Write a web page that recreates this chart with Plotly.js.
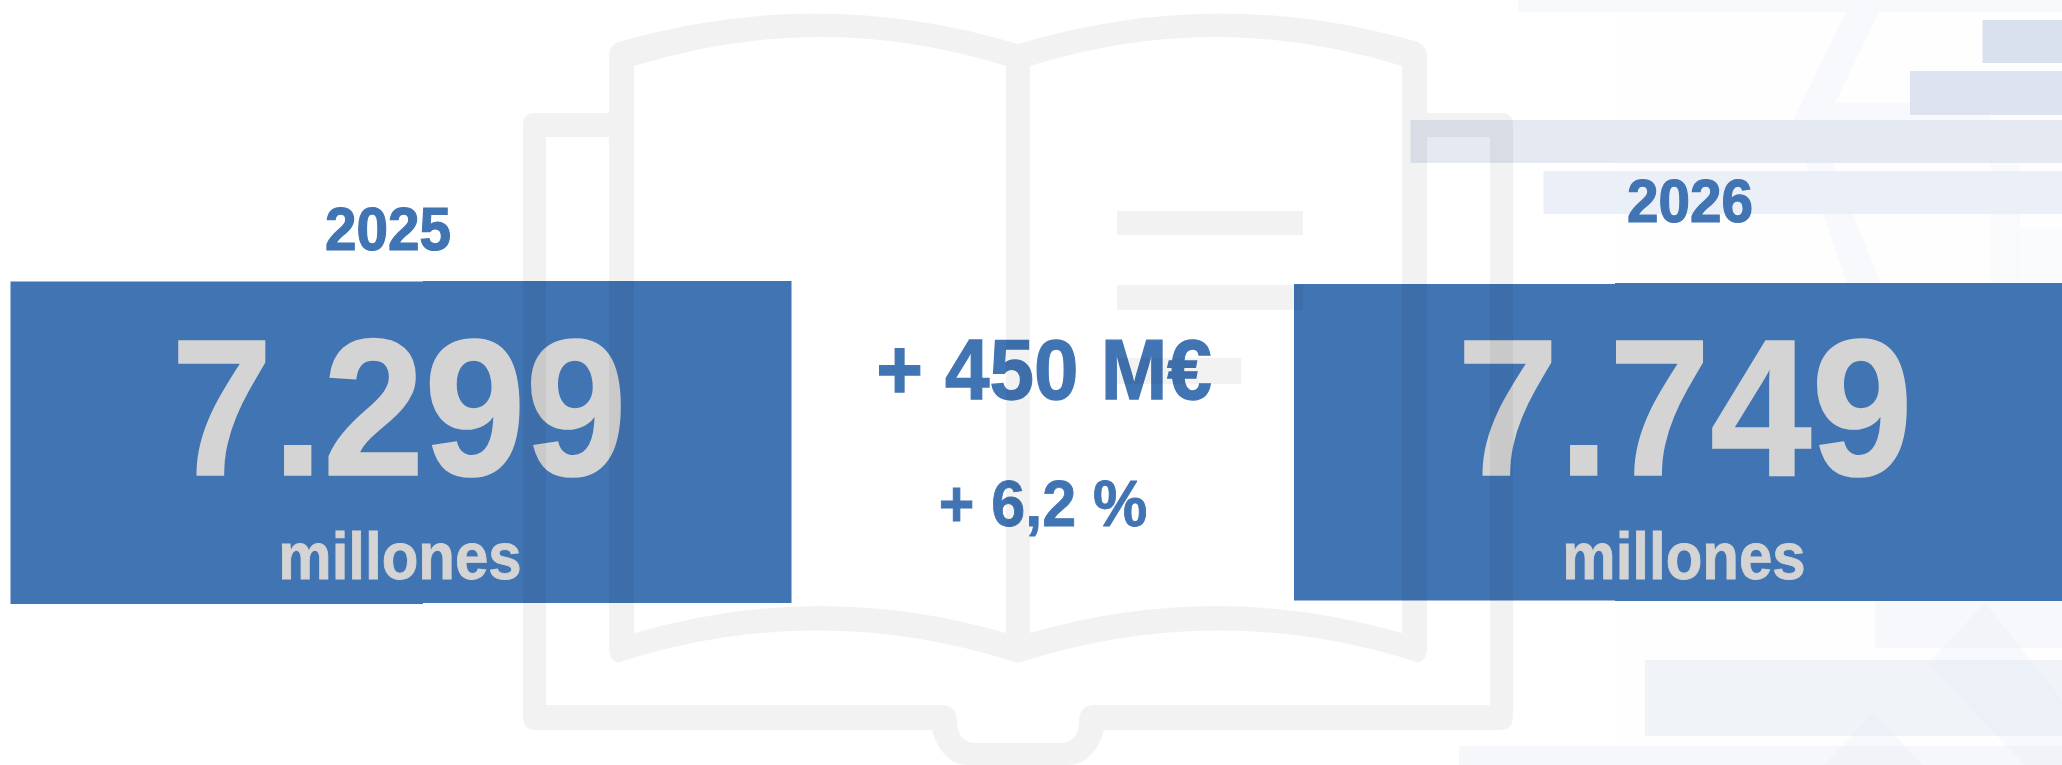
<!DOCTYPE html>
<html><head><meta charset="utf-8">
<script src="https://cdn.plot.ly/plotly-3.0.1.min.js"></script>
<style>html,body{margin:0;padding:0;background:#fff}#c{width:2062px;height:765px}
.textpoint text{transform-box:fill-box;transform-origin:center}</style>
</head><body><div id="c"></div>
<script>
// Chart content
const years = ['2025', '2026'];
const totals = ['7.299', '7.749'];
const units = ['millones', 'millones'];
const differences = ['+ 450 M€', '+ 6,2 %'];

// Layout helpers (page pixels)
const BLUE = '#4174b3', GREY = '#d4d4d4';
const font = (size, color) => ({family: '"Liberation Sans", Arial, sans-serif', size, color, weight: 700});
const txt = (x, y, text, size, color) => ({
  type: 'scatter', mode: 'text', x: [x], y: [y], text: [text], textposition: 'middle center',
  textfont: font(size, color), hoverinfo: 'skip', showlegend: false, cliponaxis: false
});
const rect = (x0, y0, x1, y1, fill) => ({type: 'rect', xref: 'x', yref: 'y', x0, y0, x1, y1,
  fillcolor: fill, line: {width: 0}, layer: 'below'});
const poly = (d, fill) => ({type: 'path', xref: 'x', yref: 'y', path: d, fillcolor: fill, line: {width: 0}, layer: 'below'});

const backdrop = [
  rect(1615, 0, 2062, 765, '#fefefe'),
  rect(1518, 0, 2062, 12, '#f8f9fc'),
  rect(1875, 601, 2062, 648, '#f7f8fc'),
  rect(2004, 228, 2062, 283, '#fafbfd'),
  rect(1991, 135, 2020, 283, '#f9fafc'),
  poly('M1852,0 L1885,0 L1835,103 L1991,103 L1991,123 L1816,123 L1881,283 L1847,283 L1792,123 Z', '#f8f9fc'),
  rect(1982.5, 20, 2062, 63, '#d9e1ef'),
  rect(1910, 71, 2062, 115, '#dde3f1'),
  rect(1410.5, 120, 2062, 163, '#e4e9f2'),
  rect(1543.5, 171, 2062, 214, '#ebf0f8'),
  rect(1645, 660, 2062, 736, '#f0f4f8'),
  rect(1459, 746, 2062, 765, '#f6f7fb'),
  poly('M1985,603 L2062,700 L2062,765 L2025,765 L1928,663 Z', 'rgba(205,216,238,0.13)'),
  poly('M1873,713 L1923,765 L1824,765 Z', 'rgba(205,216,238,0.13)')
];

const boxes = [
  rect(10.5, 281.5, 423, 604, BLUE),
  rect(423, 281, 791.5, 603, BLUE),
  rect(1294, 284, 1615, 600.5, BLUE),
  rect(1615, 283, 2062, 601, BLUE)
];

// Book icon: one even-odd outline so that overlaps never double up
const bookPath = [
  'M1018,44 Q818,-16 618,42 Q609,46 609,55 L609,113 L535,113 Q523,113 523,125 L523,716 Q523,730 535,730',
  'L932,730 C937,750 950,765 967,765 L1069,765 C1086,765 1099,750 1104,730',
  'L1501,730 Q1513,730 1513,716 L1513,125 Q1513,113 1501,113 L1427,113 L1427,55 Q1427,46 1418,42 Q1218,-16 1018,44 Z',
  'M546,137 L609,137 L609,650 Q611,666 623,661 Q820,599 1018,663 Q1216,599 1413,661 Q1425,666 1427,650 L1427,137 L1490,137 L1490,705',
  'L1093,705 Q1079,706 1079,722 Q1078,743 1059,743 L977,743 Q958,743 957,722 Q957,706 943,705 L546,705 Z',
  'M634,66 Q820,8 1006,66 L1006,633 Q820,579 634,633 Z',
  'M1030,66 Q1216,8 1402,66 L1402,633 Q1216,579 1030,633 Z',
  'M1117,211 L1303,211 L1303,235 L1117,235 Z',
  'M1117,285 L1303,285 L1303,310 L1117,310 Z',
  'M1117,358 L1241,358 L1241,384 L1117,384 Z'
].join(' ');
const book = {type: 'path', xref: 'x', yref: 'y', path: bookPath, fillcolor: 'rgba(0,0,0,0.052)',
  fillrule: 'evenodd', line: {width: 0}, layer: 'above'};

const traces = [
  txt(388, 235, years[0], 59, BLUE),
  txt(1690, 207, years[1], 59, BLUE),
  txt(399, 425, totals[0], 182, GREY),
  txt(1685, 425, totals[1], 182, GREY),
  txt(400, 561, units[0], 60, GREY),
  txt(1684, 561, units[1], 60, GREY),
  txt(1044, 377, differences[0], 80, BLUE),
  txt(1043, 510, differences[1], 61, BLUE)
];

// The source lettering is a little taller and heavier than the font's natural shape
const glyphScale = [[0.96, 1.02, 1.2], [0.96, 1.02, 1.2], [1, 1.07, 1.6], [1, 1.07, 1.6], [1, 1.12, 0.8], [1, 1.12, 0.8], [1, 1.07, 1.2], [1, 1.05, 0.8]];

Plotly.newPlot('c', traces, {
  width: 2062, height: 765, margin: {l: 0, r: 0, t: 0, b: 0},
  paper_bgcolor: '#ffffff', plot_bgcolor: 'rgba(0,0,0,0)', showlegend: false,
  xaxis: {range: [0, 2062], visible: false, fixedrange: true},
  yaxis: {range: [765, 0], visible: false, fixedrange: true},
  shapes: [...backdrop, ...boxes, book]
}, {displayModeBar: false, staticPlot: true}).then(() => {
  document.querySelectorAll('.textpoint text').forEach((t, i) => {
    const [sx, sy, w] = glyphScale[i];
    t.style.transform = `scale(${sx},${sy})`;
    t.style.stroke = t.style.fill;
    t.style.strokeWidth = w + 'px';
  });
});
</script></body></html>
